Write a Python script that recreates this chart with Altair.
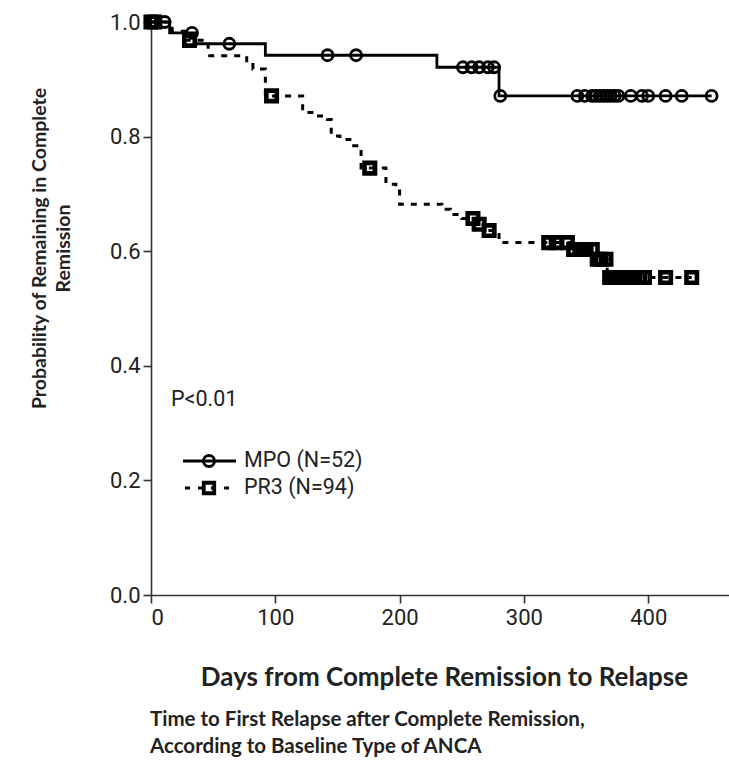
import altair as alt
import pandas as pd

# ---------------- data ----------------
series_names = ["MPO (N=52)", "PR3 (N=94)"]
p_text = "P<0.01"
x_title = "Days from Complete Remission to Relapse"
y_title = ["Probability of Remaining in Complete", "Remission"]
caption = ["Time to First Relapse after Complete Remission,",
           "According to Baseline Type of ANCA"]
x_ticks = [0, 100, 200, 300, 400]
y_ticks = [0.0, 0.2, 0.4, 0.6, 0.8, 1.0]

# MPO Kaplan-Meier steps (day, probability)
mpo_days = [0, 15, 36, 92, 230, 280, 451]
mpo_surv = [1.0, 0.981, 0.962, 0.942, 0.921, 0.871, 0.871]
# MPO censored observations (days)
mpo_cens = [11, 33, 63, 142, 165, 251, 258, 264, 271, 276, 281, 343, 349,
            355, 358, 361, 364, 367, 370, 373, 376, 386, 395, 400, 414, 427, 451]

# PR3 Kaplan-Meier steps (day, probability)
pr3_days = [0, 17, 28, 46, 77, 82, 92, 122, 133, 142, 145, 152, 160, 169,
            189, 197, 200, 234, 241, 250, 262, 268, 280, 338, 357, 367, 435]
pr3_surv = [1.0, 0.984, 0.968, 0.941, 0.929, 0.918, 0.871, 0.842, 0.836,
            0.830, 0.801, 0.795, 0.784, 0.745, 0.717, 0.705, 0.682, 0.673,
            0.664, 0.657, 0.647, 0.636, 0.615, 0.603, 0.586, 0.554, 0.554]
# PR3 censored observations (days)
pr3_cens = [0, 3, 31, 97, 176, 259, 264, 272, 320, 326, 335, 340, 345, 350,
            355, 359, 362, 366, 369, 372, 375, 378, 381, 385, 389, 393, 397,
            414, 435]


def km_level(t, days, surv):
    v = surv[0]
    for d, s in zip(days, surv):
        if d <= t:
            v = s
    return v


mpo_line_df = pd.DataFrame({"day": mpo_days, "surv": mpo_surv})
pr3_line_df = pd.DataFrame({"day": pr3_days, "surv": pr3_surv})
mpo_cens_df = pd.DataFrame({"day": mpo_cens,
                            "surv": [km_level(t, mpo_days, mpo_surv) for t in mpo_cens]})
pr3_cens_df = pd.DataFrame({"day": pr3_cens,
                            "surv": [km_level(t, pr3_days, pr3_surv) for t in pr3_cens]})

# ---------------- layout ----------------
W, H = 578, 573
PAD_L, PAD_T = 151, 22
TXT = "#222222"
REG_FONT = "Roboto"
BOLD_FONT = "Lato"

x_enc = alt.X(
    "day:Q",
    scale=alt.Scale(domain=[0, 465], nice=False, zero=False),
    axis=alt.Axis(values=x_ticks, title=x_title, format="d",
                  titleFont=BOLD_FONT, titleFontSize=26, titleFontWeight="bold",
                  titleColor=TXT, titleBaseline="middle", titleY=82,
                  titleX=W / 2 + 4),
)
y_enc = alt.Y(
    "surv:Q",
    scale=alt.Scale(domain=[0, 1], nice=False),
    axis=alt.Axis(values=y_ticks, format=".1f", title=y_title,
                  titleFont=BOLD_FONT, titleFontSize=19.5, titleFontWeight="bold",
                  titleColor=TXT, titleAngle=270, titleAlign="center",
                  titleBaseline="top", titleX=-121, titleY=226,
                  titleLineHeight=24),
)

mpo_line = alt.Chart(mpo_line_df).mark_line(
    interpolate="step-after", color="black", strokeWidth=2.8
).encode(x=x_enc, y=y_enc)

pr3_line = alt.Chart(pr3_line_df).mark_line(
    interpolate="step-after", color="black", strokeWidth=3, strokeDash=[6, 7]
).encode(x=x_enc, y=y_enc)

mpo_pts = alt.Chart(mpo_cens_df).mark_point(
    shape="circle", filled=False, color="black", size=121, strokeWidth=2.8,
    opacity=1
).encode(x=x_enc, y=y_enc)

pr3_pts = alt.Chart(pr3_cens_df).mark_point(
    shape="square", filled=False, color="black", size=110, strokeWidth=4.6,
    opacity=1
).encode(x=x_enc, y=y_enc)

# ---------------- annotations (pixel positions in the plot area) ----------------
one = pd.DataFrame({"k": [0]})
LEG_FS = 21.5

p_mark = alt.Chart(pd.DataFrame({"t": [p_text]})).mark_text(
    align="left", baseline="middle", font=REG_FONT, fontSize=LEG_FS, color=TXT
).encode(x=alt.value(171 - PAD_L), y=alt.value(400 - PAD_T), text="t:N")

leg_y = [461 - PAD_T, 488 - PAD_T]
leg_x0, leg_x1, leg_xm, leg_xt = 183 - PAD_L, 236 - PAD_L, 209 - PAD_L, 244 - PAD_L

leg_mpo_rule = alt.Chart(one).mark_rule(color="black", strokeWidth=2.8).encode(
    x=alt.value(leg_x0), x2=alt.value(leg_x1), y=alt.value(leg_y[0]))
leg_mpo_pt = alt.Chart(one).mark_point(
    shape="circle", filled=False, color="black", size=121, strokeWidth=2.8, opacity=1
).encode(x=alt.value(leg_xm), y=alt.value(leg_y[0]))
leg_pr3_rule = alt.Chart(one).mark_rule(
    color="black", strokeWidth=3, strokeDash=[5, 8], strokeDashOffset=-2).encode(
    x=alt.value(leg_x0), x2=alt.value(leg_x1), y=alt.value(leg_y[1]))
leg_pr3_pt = alt.Chart(one).mark_point(
    shape="square", filled=False, color="black", size=110, strokeWidth=3.8, opacity=1
).encode(x=alt.value(leg_xm), y=alt.value(leg_y[1]))
leg_text1 = alt.Chart(pd.DataFrame({"t": [series_names[0]]})).mark_text(
    align="left", baseline="middle", font=REG_FONT, fontSize=LEG_FS, color=TXT
).encode(x=alt.value(leg_xt), y=alt.value(leg_y[0]), text="t:N")
leg_text2 = alt.Chart(pd.DataFrame({"t": [series_names[1]]})).mark_text(
    align="left", baseline="middle", font=REG_FONT, fontSize=LEG_FS, color=TXT
).encode(x=alt.value(leg_xt), y=alt.value(leg_y[1]), text="t:N")

cap_mark = alt.Chart(one).mark_text(
    align="left", baseline="middle", font=BOLD_FONT, fontSize=20.5,
    fontWeight="bold", color=TXT, lineHeight=27
).encode(x=alt.value(150 - PAD_L), y=alt.value(720 - PAD_T),
         text=alt.value(caption))

chart = alt.layer(
    mpo_line, pr3_line, mpo_pts, pr3_pts,
    p_mark, leg_mpo_rule, leg_pr3_rule, leg_mpo_pt, leg_pr3_pt,
    leg_text1, leg_text2, cap_mark,
).properties(
    width=W, height=H,
    autosize=alt.AutoSizeParams(type="none"),
    padding={"left": PAD_L, "top": PAD_T, "right": 0, "bottom": 761 - PAD_T - H},
    background="white",
).configure_view(stroke=None).configure_axis(
    grid=False,
    domainColor="#333333", domainWidth=1.6,
    tickColor="#333333", tickWidth=1.6, tickSize=8,
    labelFont=REG_FONT, labelFontSize=22, labelColor=TXT,
).configure_axisX(labelPadding=4).configure_axisY(labelPadding=3)

chart.save("out.html", embed_options={"renderer": "svg", "actions": False})
